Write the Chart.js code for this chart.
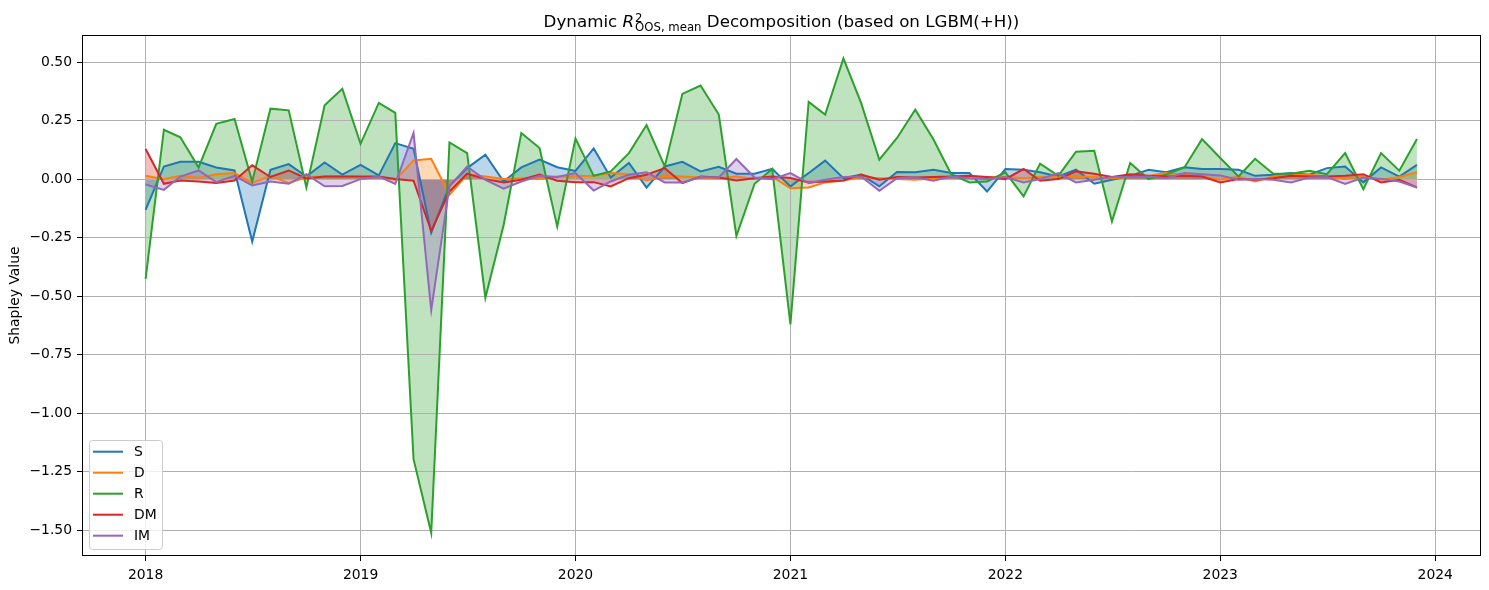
<!DOCTYPE html>
<html>
<head>
<meta charset="utf-8">
<script src="https://cdn.jsdelivr.net/npm/chart.js@4.4.1/dist/chart.umd.min.js"></script>
<style>
  html, body { margin: 0; padding: 0; background: #fff; }
  #wrap { width: 1489px; height: 590px; position: relative; }
</style>
</head>
<body>
<div id="wrap"><canvas id="chart"></canvas></div>
<script>
// ---- data (monthly, 2018-01 .. 2023-12) ----
const months = [
  '2018-01','2018-02','2018-03','2018-04','2018-05','2018-06','2018-07','2018-08','2018-09','2018-10','2018-11','2018-12',
  '2019-01','2019-02','2019-03','2019-04','2019-05','2019-06','2019-07','2019-08','2019-09','2019-10','2019-11','2019-12',
  '2020-01','2020-02','2020-03','2020-04','2020-05','2020-06','2020-07','2020-08','2020-09','2020-10','2020-11','2020-12',
  '2021-01','2021-02','2021-03','2021-04','2021-05','2021-06','2021-07','2021-08','2021-09','2021-10','2021-11','2021-12',
  '2022-01','2022-02','2022-03','2022-04','2022-05','2022-06','2022-07','2022-08','2022-09','2022-10','2022-11','2022-12',
  '2023-01','2023-02','2023-03','2023-04','2023-05','2023-06','2023-07','2023-08','2023-09','2023-10','2023-11','2023-12'
];

const S = [
  -0.131, 0.054, 0.074, 0.074, 0.050, 0.037, -0.267, 0.040, 0.064, 0.011, 0.071, 0.019,
  0.061, 0.016, 0.154, 0.130, -0.229, -0.030, 0.047, 0.104, -0.010, 0.050, 0.083, 0.051,
  0.035, 0.131, 0.007, 0.069, -0.036, 0.054, 0.074, 0.033, 0.053, 0.023, 0.023, 0.044,
  -0.031, 0.026, 0.079, 0.004, 0.019, -0.031, 0.030, 0.029, 0.040, 0.026, 0.026, -0.053,
  0.043, 0.040, 0.029, 0.011, 0.040, -0.020, -0.003, 0.014, 0.040, 0.029, 0.051, 0.043,
  0.043, 0.040, 0.014, 0.019, 0.026, 0.019, 0.047, 0.054, -0.014, 0.050, 0.011, 0.061
];
const D = [
  0.014, 0.000, 0.014, 0.006, 0.021, 0.026, -0.017, 0.014, -0.017, 0.009, 0.011, 0.011,
  0.009, 0.009, -0.003, 0.080, 0.087, -0.067, 0.019, 0.011, 0.000, 0.004, 0.000, 0.011,
  0.012, 0.014, 0.026, 0.021, -0.006, 0.014, 0.011, 0.007, 0.004, 0.011, 0.000, 0.011,
  -0.039, -0.036, -0.014, -0.006, 0.009, 0.004, 0.000, -0.003, 0.004, 0.009, 0.009, 0.009,
  0.009, 0.004, 0.009, 0.011, 0.011, 0.009, 0.004, 0.009, 0.014, 0.026, 0.019, 0.011,
  -0.003, 0.011, -0.010, 0.011, 0.019, 0.019, 0.011, 0.000, 0.014, -0.003, 0.009, 0.029
];
const R = [
  -0.426, 0.211, 0.179, 0.050, 0.236, 0.257, -0.010, 0.301, 0.294, -0.036, 0.316, 0.386,
  0.151, 0.326, 0.283, -1.197, -1.512, 0.157, 0.111, -0.507, -0.196, 0.197, 0.133, -0.203,
  0.173, 0.014, 0.033, 0.111, 0.231, 0.054, 0.364, 0.400, 0.276, -0.243, -0.020, 0.043,
  -0.621, 0.330, 0.276, 0.516, 0.326, 0.083, 0.176, 0.297, 0.169, 0.021, -0.014, -0.010,
  0.029, -0.074, 0.066, 0.014, 0.117, 0.121, -0.181, 0.069, 0.000, 0.019, 0.050, 0.171,
  0.090, 0.011, 0.087, 0.023, 0.023, 0.036, 0.021, 0.111, -0.043, 0.111, 0.036, 0.171
];
const DM = [
  0.129, -0.020, -0.006, -0.010, -0.017, -0.006, 0.059, 0.009, 0.037, 0.003, 0.011, 0.011,
  0.011, 0.011, 0.000, -0.007, -0.221, -0.053, 0.023, 0.000, -0.014, -0.003, 0.019, -0.007,
  -0.013, -0.013, -0.031, 0.004, 0.019, 0.047, -0.017, 0.011, 0.007, -0.006, 0.004, 0.011,
  0.005, -0.014, -0.010, -0.006, 0.019, -0.003, 0.009, 0.007, 0.009, 0.011, 0.014, 0.009,
  0.000, 0.043, -0.007, 0.000, 0.033, 0.023, 0.009, 0.021, 0.014, 0.011, 0.014, 0.011,
  -0.014, 0.000, -0.003, 0.004, 0.014, 0.011, 0.011, 0.014, 0.021, -0.014, -0.003, -0.036
];
const IM = [
  -0.023, -0.046, 0.011, 0.037, -0.013, 0.014, -0.027, -0.010, -0.020, 0.021, -0.031, -0.029,
  0.000, 0.011, -0.020, 0.197, -0.560, -0.030, 0.054, -0.003, -0.041, -0.010, 0.014, 0.009,
  0.026, -0.049, -0.010, 0.019, 0.029, -0.014, -0.014, 0.009, 0.007, 0.086, 0.007, 0.000,
  0.026, -0.017, -0.003, 0.009, 0.011, -0.050, 0.004, 0.007, -0.007, 0.011, 0.004, 0.000,
  0.009, -0.014, 0.000, 0.026, -0.014, -0.003, 0.009, 0.009, 0.011, 0.004, 0.026, 0.021,
  0.015, -0.003, 0.000, -0.003, -0.014, 0.007, 0.009, -0.021, 0.007, 0.000, -0.010, -0.036
];

const seriesNames = ['S', 'D', 'R', 'DM', 'IM'];
const seriesData = [S, D, R, DM, IM];
const colors = ['#1f77b4', '#ff7f0e', '#2ca02c', '#d62728', '#9467bd'];
const xTicks = [2018, 2019, 2020, 2021, 2022, 2023, 2024];
const yTicks = [-1.5, -1.25, -1.0, -0.75, -0.5, -0.25, 0.0, 0.25, 0.5];

// month string -> fractional year (like matplotlib date axis)
function toYear(m) {
  const [y, mo] = m.split('-').map(Number);
  const start = Date.UTC(y, 0, 1), end = Date.UTC(y + 1, 0, 1);
  return y + (Date.UTC(y, mo - 1, 1) - start) / (end - start);
}

function rgba(hex, a) {
  const n = parseInt(hex.slice(1), 16);
  return `rgba(${n >> 16},${(n >> 8) & 255},${n & 255},${a})`;
}

const FONT = 'DejaVu Sans';

// title, frame and legend drawn on top
const decor = {
  id: 'decor',
  afterDraw(chart) {
    const ctx = chart.ctx;
    const ca = chart.chartArea;
    ctx.save();

    // frame
    ctx.strokeStyle = '#000';
    ctx.lineWidth = 1;
    ctx.strokeRect(Math.round(ca.left) + 0.5, Math.round(ca.top) + 0.5,
      Math.round(ca.right - ca.left) - 1, Math.round(ca.bottom - ca.top) - 1);

    // title with R^2_{OOS, mean}
    const base = 16.7, small = 11.7;
    const fMain = `${base}px ${FONT}`, fIt = `italic ${base}px ${FONT}`, fSmall = `${small}px ${FONT}`;
    const p1 = 'Dynamic ', p2 = 'R', sup = '2', sub = 'OOS, mean', p3 = ' Decomposition (based on LGBM(+H))';
    ctx.font = fMain; const w1 = ctx.measureText(p1).width, w3 = ctx.measureText(p3).width;
    ctx.font = fIt; const w2 = ctx.measureText(p2).width + 1;
    ctx.font = fSmall; const ws = Math.max(ctx.measureText(sup).width, ctx.measureText(sub).width);
    const total = w1 + w2 + ws + w3;
    let x = (ca.left + ca.right) / 2 - total / 2;
    const yb = 27;
    ctx.fillStyle = '#000';
    ctx.textBaseline = 'alphabetic';
    ctx.textAlign = 'left';
    ctx.font = fMain; ctx.fillText(p1, x, yb); x += w1;
    ctx.font = fIt; ctx.fillText(p2, x, yb); x += w2;
    ctx.font = fSmall; ctx.fillText(sup, x, yb - 5.5); ctx.fillText(sub, x, yb + 4); x += ws;
    ctx.font = fMain; ctx.fillText(p3, x, yb);

    // legend (lower left, inside axes)
    const lx = ca.left + 7, lw = 73, lh = 109, ly = ca.bottom - 7 - lh;
    ctx.beginPath();
    ctx.roundRect(lx + 0.5, ly + 0.5, lw, lh, 3);
    ctx.fillStyle = 'rgba(255,255,255,0.8)';
    ctx.fill();
    ctx.strokeStyle = '#cccccc';
    ctx.lineWidth = 1;
    ctx.stroke();
    ctx.font = `13.9px ${FONT}`;
    ctx.textBaseline = 'middle';
    seriesNames.forEach((name, k) => {
      const ry = ly + 11.7 + k * 21;
      ctx.beginPath();
      ctx.moveTo(lx + 4, ry);
      ctx.lineTo(lx + 34, ry);
      ctx.strokeStyle = colors[k];
      ctx.lineWidth = 2;
      ctx.stroke();
      ctx.fillStyle = '#000';
      ctx.fillText(name, lx + 45, ry + 1);
    });
    ctx.restore();
  }
};

const datasets = seriesNames.map((name, k) => ({
  label: name,
  data: months.map((m, i) => ({ x: toYear(m), y: seriesData[k][i] })),
  borderColor: colors[k],
  backgroundColor: rgba(colors[k], 0.3),
  borderWidth: 2,
  pointRadius: 0,
  tension: 0,
  fill: 'origin',
  order: seriesNames.length - k
}));

new Chart(document.getElementById('chart'), {
  type: 'line',
  data: { datasets },
  options: {
    responsive: true,
    maintainAspectRatio: false,
    animation: false,
    layout: { padding: { top: 35, right: 8, left: 0, bottom: 0 } },
    plugins: {
      legend: { display: false },
      tooltip: { enabled: false },
      filler: { drawTime: 'beforeDraw' }
    },
    scales: {
      x: {
        type: 'linear',
        min: 2017.704,
        max: 2024.213,
        afterBuildTicks: s => { s.ticks = xTicks.map(v => ({ value: v })); },
        afterFit: s => { s.height = 34; },
        border: { display: false },
        grid: { color: '#b0b0b0', lineWidth: 1, tickColor: '#000', tickLength: 5, tickWidth: 1 },
        ticks: {
          autoSkip: false, maxRotation: 0, padding: 6, color: '#000',
          font: { family: FONT, size: 13.9 },
          callback: v => String(v)
        }
      },
      y: {
        min: -1.611,
        max: 0.616,
        afterBuildTicks: s => { s.ticks = yTicks.map(v => ({ value: v })); },
        afterFit: s => { s.width = 82; },
        border: { display: false },
        grid: { color: '#b0b0b0', lineWidth: 1, tickColor: '#000', tickLength: 5, tickWidth: 1 },
        ticks: {
          padding: 5, color: '#000',
          font: { family: FONT, size: 13.9 },
          callback: v => v.toFixed(2).replace('-', '\u2212')
        },
        title: {
          display: true, text: 'Shapley Value', color: '#000',
          font: { family: FONT, size: 13.9 },
          padding: { top: 7, bottom: 0 }
        }
      }
    }
  },
  plugins: [decor]
});
</script>
</body>
</html>
